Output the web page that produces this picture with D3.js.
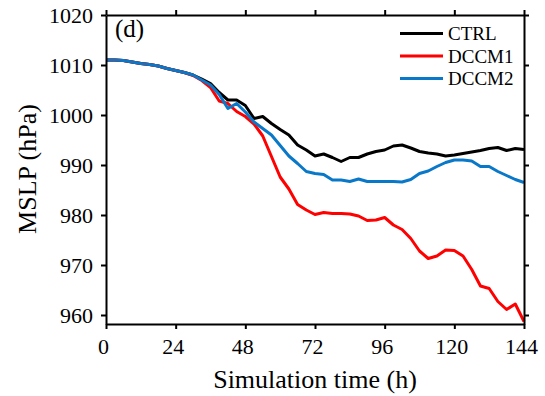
<!DOCTYPE html>
<html>
<head>
<meta charset="utf-8">
<script src="https://cdn.jsdelivr.net/npm/d3@7"></script>
<style>
  html, body { margin: 0; padding: 0; background: #fff; }
  svg { display: block; }
  svg text { font-family: "Liberation Serif", "Times New Roman", Times, "Nimbus Roman", "DejaVu Serif", serif !important; }
</style>
</head>
<body>
<svg id="chart" width="545" height="396"></svg>
<script>
// ---- data ----
const hours = [0,3,6,9,12,15,18,21,24,27,30,33,36,39,42,45,48,51,54,57,60,63,66,69,72,75,78,81,84,87,90,93,96,99,102,105,108,111,114,117,120,123,126,129,132,135,138,141,144];
const ctrl  = [1011.0,1011.0,1010.9,1010.6,1010.3,1010.1,1009.8,1009.3,1008.9,1008.5,1008.0,1007.2,1006.3,1004.5,1003.0,1003.0,1001.9,999.3,999.7,998.3,997.1,996.0,994.0,993.0,991.8,992.2,991.5,990.7,991.5,991.5,992.2,992.7,993.0,993.8,994.0,993.4,992.7,992.4,992.2,991.8,992.0,992.3,992.6,992.9,993.3,993.5,992.9,993.3,993.1];
const dccm1 = [1011.0,1011.0,1010.9,1010.6,1010.3,1010.1,1009.8,1009.3,1008.9,1008.5,1007.9,1006.9,1005.5,1002.8,1002.3,1000.7,999.7,998.2,995.8,991.7,987.6,985.2,982.1,981.0,980.1,980.5,980.3,980.3,980.2,979.8,978.9,979.0,979.5,978.0,977.1,975.3,972.8,971.3,971.8,973.0,972.9,971.8,969.1,965.8,965.3,962.7,961.1,962.2,958.7];
const dccm2 = [1011.0,1011.0,1010.9,1010.6,1010.3,1010.1,1009.8,1009.3,1008.9,1008.5,1008.0,1007.0,1006.0,1004.1,1001.3,1002.3,1000.6,998.6,997.3,996.0,993.9,991.8,990.3,988.7,988.3,988.1,987.0,987.0,986.7,987.2,986.7,986.7,986.7,986.7,986.6,987.1,988.3,988.8,989.7,990.5,991.0,991.0,990.8,989.7,989.7,988.7,987.9,987.1,986.5];
const seriesNames = ["CTRL", "DCCM1", "DCCM2"];
const seriesColors = ["#000000", "#ff0000", "#0a78c8"];
const xTicks = [0,24,48,72,96,120,144];
const yTicks = [960,970,980,990,1000,1010,1020];
const xLabel = "Simulation time (h)";
const yLabel = "MSLP (hPa)";
const panelLabel = "(d)";

// ---- layout ----
const FONT = "'Liberation Serif', 'Times New Roman', Times, 'DejaVu Serif', serif";
const svg = d3.select("#chart").attr("font-family", FONT);
const margin = {left: 106, top: 15, right: 21, bottom: 72};
const W = 545, H = 396;
const iw = W - margin.left - margin.right;
const ih = H - margin.top - margin.bottom;

const x = d3.scaleLinear().domain([0, 144]).range([margin.left, margin.left + iw]);
const y = d3.scaleLinear().domain([958.2, 1020]).range([margin.top + ih, margin.top]);

const g = svg.append("g");

// lines
const series = [ctrl, dccm1, dccm2];
const line = d3.line().x((d, i) => x(hours[i])).y(d => y(d));
series.forEach((s, k) => {
  g.append("path")
    .datum(s)
    .attr("fill", "none")
    .attr("stroke", seriesColors[k])
    .attr("stroke-width", 3)
    .attr("stroke-linejoin", "round")
    .attr("d", line);
});

// axes
function styleAxis(sel) {
  sel.attr("font-family", FONT);
  sel.selectAll("path.domain").attr("stroke", "#000").attr("stroke-width", 2);
  sel.selectAll(".tick line").attr("stroke", "#000").attr("stroke-width", 2);
  sel.selectAll("text").attr("fill", "#000").attr("font-family", FONT);
}

const xAxis = g.append("g")
  .attr("transform", `translate(0,${margin.top + ih})`)
  .call(d3.axisBottom(x).tickValues(xTicks).tickSize(5).tickSizeOuter(0).tickPadding(9).tickFormat(d3.format("d")));
styleAxis(xAxis);
xAxis.selectAll("text").attr("font-size", "22px").attr("dx", "-3");

const xAxisTop = g.append("g")
  .attr("transform", `translate(0,${margin.top})`)
  .call(d3.axisTop(x).tickValues(xTicks).tickSize(5).tickSizeOuter(0).tickFormat(""));
styleAxis(xAxisTop);

const yAxis = g.append("g")
  .attr("transform", `translate(${margin.left},0)`)
  .call(d3.axisLeft(y).tickValues(yTicks).tickSize(5).tickSizeOuter(0).tickPadding(8).tickFormat(d3.format("d")));
styleAxis(yAxis);
yAxis.selectAll("text").attr("font-size", "22px");

const yAxisRight = g.append("g")
  .attr("transform", `translate(${margin.left + iw},0)`)
  .call(d3.axisRight(y).tickValues(yTicks).tickSize(5).tickSizeOuter(0).tickFormat(""));
styleAxis(yAxisRight);

// axis titles
svg.append("text")
  .attr("x", 315).attr("y", 388)
  .attr("text-anchor", "middle")
  .attr("font-size", "26px")
  .text(xLabel);

svg.append("text")
  .attr("transform", `translate(36,169) rotate(-90)`)
  .attr("text-anchor", "middle")
  .attr("font-size", "26px")
  .text(yLabel);

// panel label
svg.append("text")
  .attr("x", 115).attr("y", 37)
  .attr("font-size", "25px")
  .text(panelLabel);

// legend
const legend = svg.append("g");
seriesNames.forEach((name, k) => {
  const yy = 33.5 + k * 22.5;
  legend.append("line")
    .attr("x1", 400).attr("x2", 443)
    .attr("y1", yy).attr("y2", yy)
    .attr("stroke", seriesColors[k]).attr("stroke-width", 3);
  legend.append("text")
    .attr("x", 448).attr("y", yy + 6.5)
    .attr("font-size", "19px")
    .text(name);
});
</script>
</body>
</html>
